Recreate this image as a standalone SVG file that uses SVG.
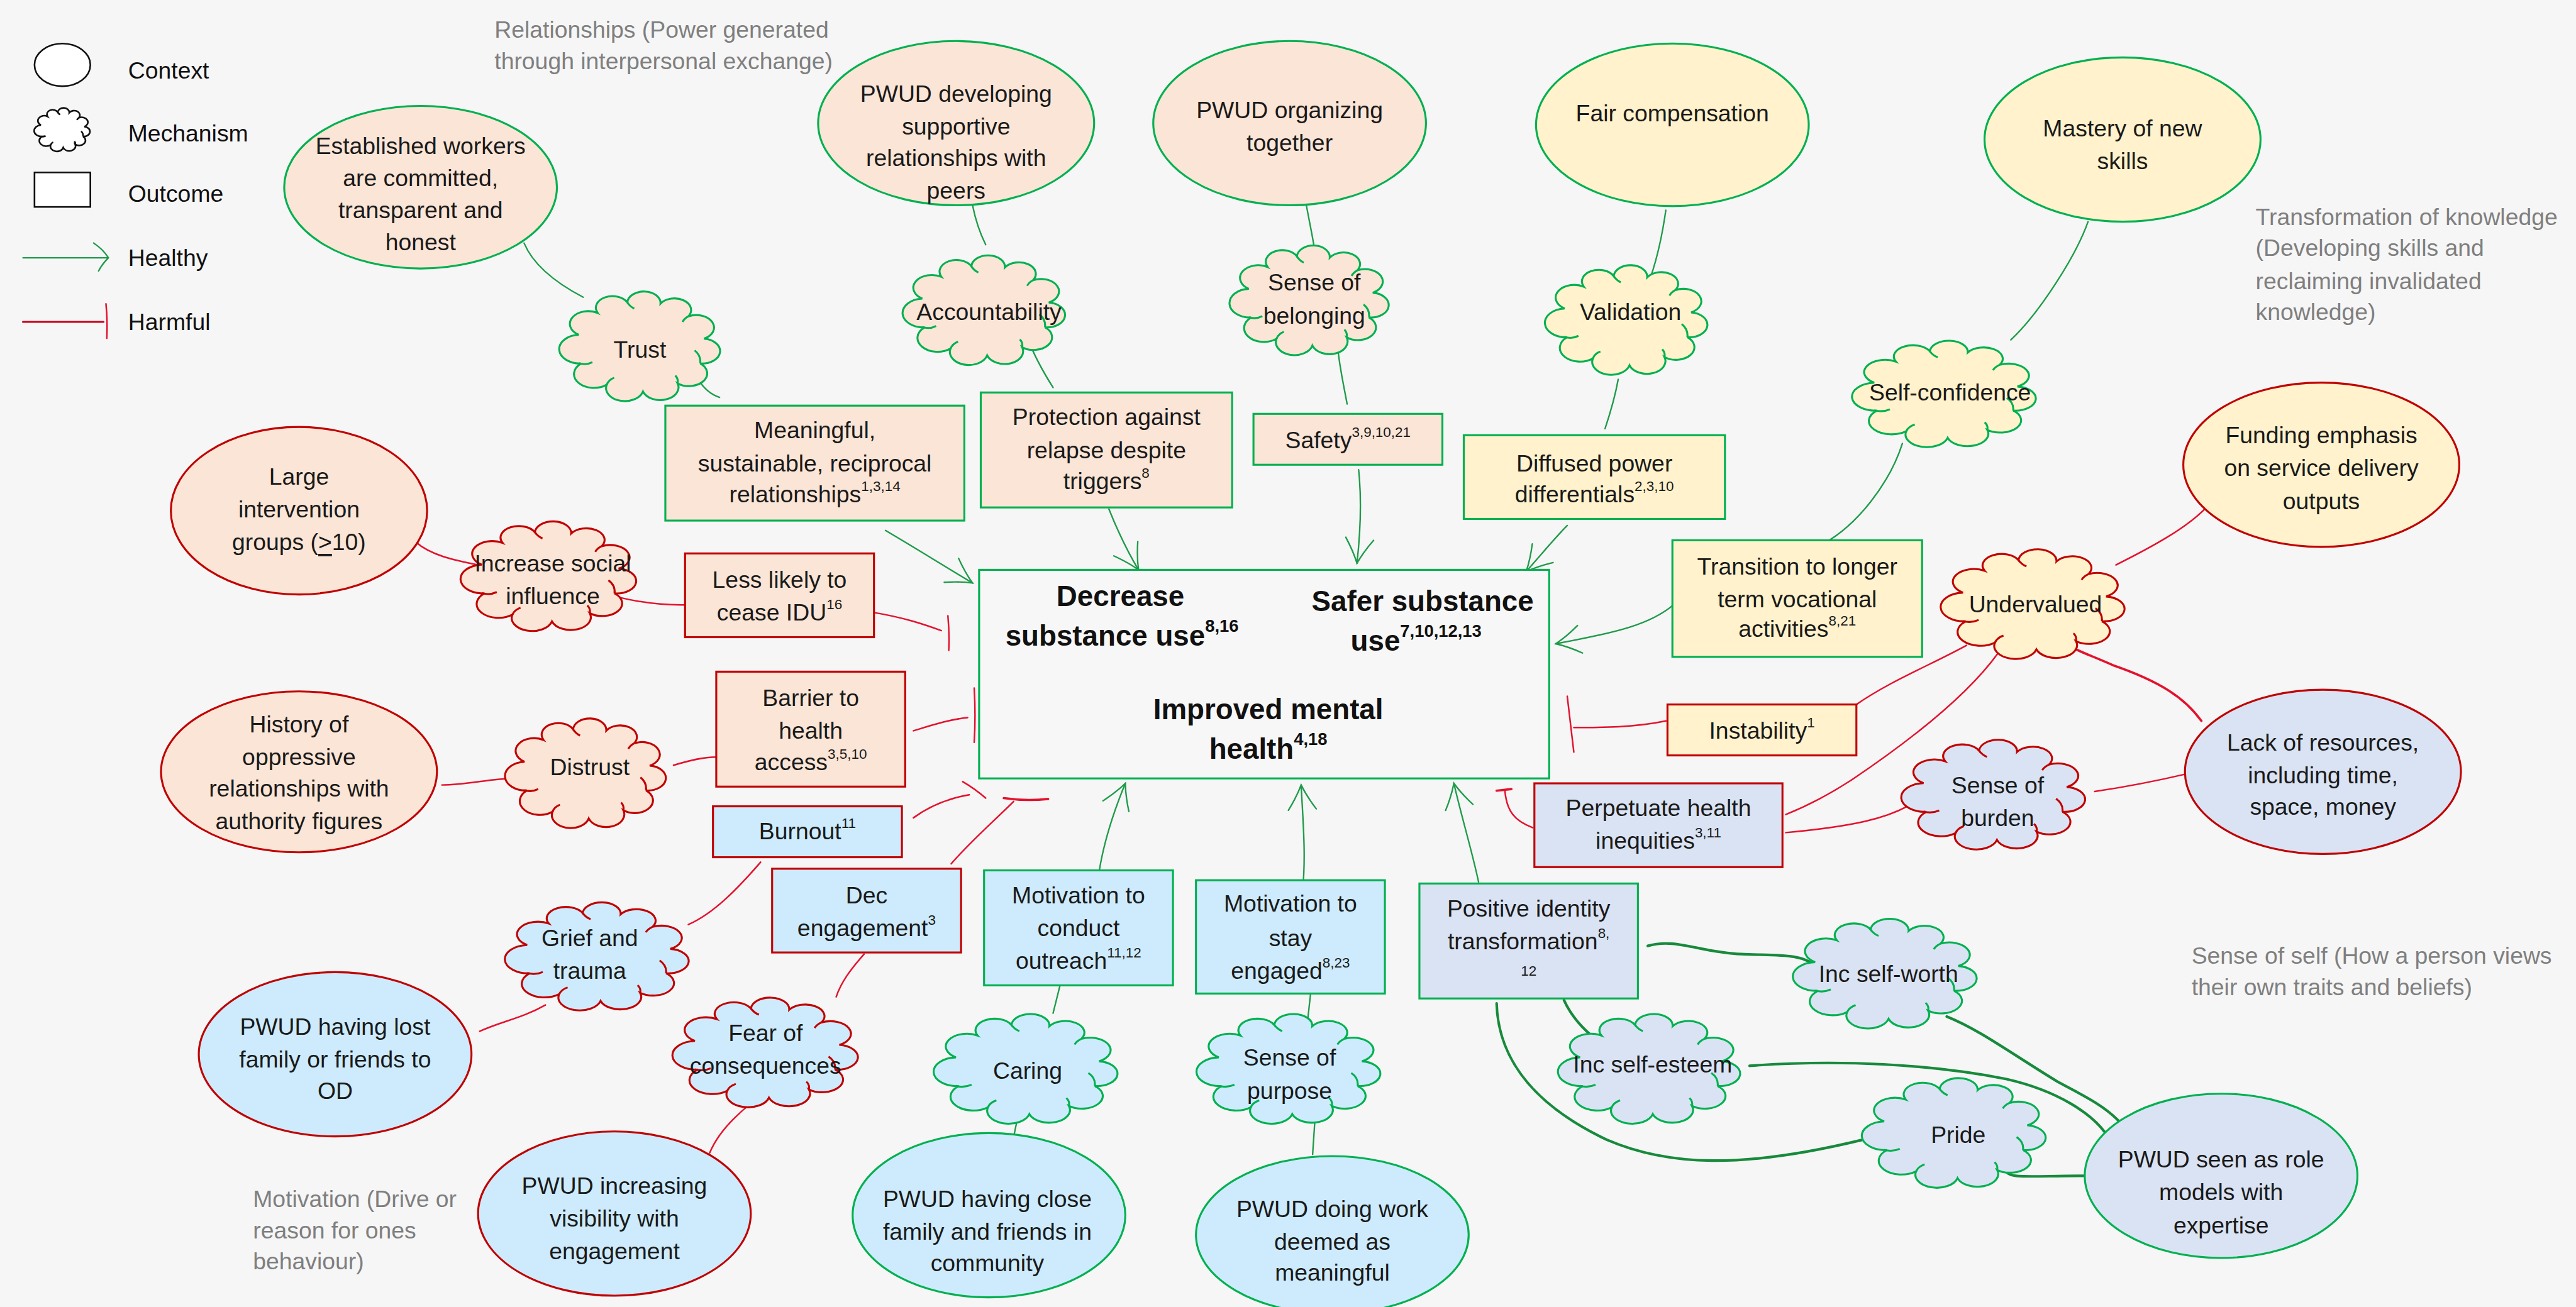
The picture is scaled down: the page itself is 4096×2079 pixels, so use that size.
<svg xmlns="http://www.w3.org/2000/svg" xmlns:xlink="http://www.w3.org/1999/xlink" width="4096" height="2079" viewBox="0 0 4096 2079">
<style>
.t{font-family:"Liberation Sans",Arial,sans-serif;font-size:14.3px;fill:#1a1a1a;text-anchor:middle;dominant-baseline:central}
.lg{font-family:"Liberation Sans",Arial,sans-serif;font-size:14.3px;fill:#111;dominant-baseline:central}
.gl{font-family:"Liberation Sans",Arial,sans-serif;font-size:14.3px;fill:#7f7f7f;dominant-baseline:central}
.b{font-family:"Liberation Sans",Arial,sans-serif;font-size:17.5px;font-weight:bold;fill:#111;text-anchor:middle;dominant-baseline:central}
.sup{font-size:8.6px}
.bsup{font-size:10.5px}
.pe{fill:#fbe5d6}.ye{fill:#fff2cc}.bl{fill:#cdebfc}.la{fill:#dae3f3}.wh{fill:#fff}
.sg{stroke:#00b050}.sr{stroke:#c00000}.sk{stroke:#111}
.n{stroke-width:1.2}
.cl{stroke-width:3.1px}
.cg{fill:none;stroke:#1e9b4a;stroke-width:0.9;stroke-linecap:round}
.cgd{fill:none;stroke:#178a3c;stroke-width:1.6;stroke-linecap:round}
.cr{fill:none;stroke:#e3122e;stroke-width:0.95;stroke-linecap:round}
.crt{fill:none;stroke:#e3122e;stroke-width:1.4;stroke-linecap:round}
</style>
<defs>
<g id="cloud">
<path vector-effect="non-scaling-stroke" d="M-38.5,-10.5 A1,1 0 0 1 -26.7,-30 A1,1 0 0 1 -8.3,-39.5 A1,1 0 0 1 12.3,-38.4 A1,1 0 0 1 29.6,-27 A1,1 0 0 1 39.3,-7 A1,1 0 0 1 37,15.2 A1,1 0 0 1 22.9,33 A1,1 0 0 1 1.4,40.3 A1,1 0 0 1 -21.1,34.2 A1,1 0 0 1 -37,15.2 A1,1 0 0 1 -38.5,-10.5 Z"/>
<path vector-effect="non-scaling-stroke" fill="none" d="M-38.5,15 Q-34,17 -30,14 M37,15.2 Q37.5,8 33.5,3.5 M22.9,33 Q23.5,29 21.5,26 M-21.1,34.2 Q-20,30 -16.5,28 M-8.3,-39.5 Q-6.5,-35.5 -4,-34 M29.6,-27 Q27,-25 26,-22"/>
</g>
<marker id="ah" markerUnits="userSpaceOnUse" viewBox="-20 -12 24 24" markerWidth="24" markerHeight="24" refX="0" refY="0" orient="auto" overflow="visible">
<path d="M-15,-8.5 Q-7,-3 0,0 Q-7,3 -15,8.5" fill="none" stroke="#1e9b4a" stroke-width="0.9" stroke-linecap="round"/>
</marker>
</defs>
<rect x="0" y="0" width="4096" height="2079" fill="#f6f6f6"/>
<g transform="scale(2.6122)">

<g id="legend">
<ellipse cx="38" cy="39.5" rx="17" ry="13" class="wh sk" stroke-width="1"/>
<text class="lg" x="78" y="43">Context</text>
<use href="#cloud" transform="translate(38,79) scale(0.34,0.27)" class="wh sk" stroke-width="2.6"/>
<text class="lg" x="78" y="81">Mechanism</text>
<rect x="21" y="105" width="34" height="21" class="wh sk" stroke-width="1"/>
<text class="lg" x="78" y="118">Outcome</text>
<path d="M14,157 L65,157 M57,148 Q63,152 66,157 Q62,161 60,165" class="cg" stroke="#1e9b4a"/>
<text class="lg" x="78" y="157">Healthy</text>
<path d="M14,196 L63,196" class="cr" stroke="#c8001c" style="stroke:#c8001c;stroke-width:1.2"/>
<path d="M64.5,185 Q65.5,195 65,206" class="cr"/>
<text class="lg" x="78" y="196">Harmful</text>
</g>

<g id="theme-labels">
<text class="gl" x="301" y="18">Relationships (Power generated</text>
<text class="gl" x="301" y="37">through interpersonal exchange)</text>
<text class="gl" x="1373" y="132">Transformation of knowledge</text>
<text class="gl" x="1373" y="151">(Developing skills and</text>
<text class="gl" x="1373" y="171">reclaiming invalidated</text>
<text class="gl" x="1373" y="190">knowledge)</text>
<text class="gl" x="154" y="730">Motivation (Drive or</text>
<text class="gl" x="154" y="749">reason for ones</text>
<text class="gl" x="154" y="768">behaviour)</text>
<text class="gl" x="1334" y="582">Sense of self (How a person views</text>
<text class="gl" x="1334" y="601">their own traits and beliefs)</text>
</g>

<g id="connectors">
<path class="cg" d="M319,148 C324,160 336,171 355,181"/>
<path class="cg" d="M425,231 C428,236 432,240 438,242"/>
<path class="cg" d="M539,323 C556,333 572,343 592,355" marker-end="url(#ah)"/>
<path class="cg" d="M592,125 C594,135 597,143 600,149"/>
<path class="cg" d="M626,207 C630,218 636,228 641,236"/>
<path class="cg" d="M675,310 C681,325 687,337 693,347" marker-end="url(#ah)"/>
<path class="cg" d="M795,124 C797,135 799,144 800,151"/>
<path class="cg" d="M814,209 C815,222 818,235 820,246"/>
<path class="cg" d="M827,286 C829,305 828,325 826,343" marker-end="url(#ah)"/>
<path class="cg" d="M1014,128 C1012,142 1009,156 1005,168"/>
<path class="cg" d="M985,231 C983,242 980,252 977,261"/>
<path class="cg" d="M954,320 C946,328 938,338 929,348" marker-end="url(#ah)"/>
<path class="cg" d="M1271,135 C1264,155 1242,190 1224,207"/>
<path class="cg" d="M1158,270 C1150,295 1130,320 1110,331"/>
<path class="cg" d="M1019,368 C1005,380 985,385 947,392" marker-end="url(#ah)"/>
<path class="cg" d="M669,531 C672,512 678,494 685,477" marker-end="url(#ah)"/>
<path class="cg" d="M641,617 L646,597"/>
<path class="cg" d="M616,697 L620,678"/>
<path class="cg" d="M793,541 C795,520 793,498 792,478" marker-end="url(#ah)"/>
<path class="cg" d="M796,621 L798,603"/>
<path class="cg" d="M799,703 L801,673"/>
<path class="cg" d="M900,537 C896,518 889,495 885,477" marker-end="url(#ah)"/>
<path class="cgd" d="M1003,576 C1020,571 1035,580 1060,581 C1080,582 1097,580 1106,589"/>
<path class="cgd" d="M952,609 C957,620 965,628 973,634"/>
<path class="cgd" d="M911,611 C912,648 938,675 978,694 C1015,710 1060,712 1134,694"/>
<path class="cgd" d="M1065,649 C1120,645 1175,648 1221,657 C1252,664 1274,678 1283,692"/>
<path class="cgd" d="M1185,619 C1205,627 1225,642 1253,659 C1270,668 1282,674 1291,684"/>
<path class="cgd" d="M1221,713 C1223,718 1235,716 1271,716"/>
<path class="cr" d="M253,330 C262,338 276,341 291,344"/>
<path class="cr" d="M378,364 C395,368 410,369 425,368"/>
<path class="cr" d="M532,373 C550,376 562,380 573,384"/>
<path class="cr" d="M577,375 Q578,386 577.5,396"/>
<path class="cr" d="M269,478 C285,478 298,474 313,474"/>
<path class="cr" d="M410,466 C420,463 428,461 436,461"/>
<path class="cr" d="M556,445 C566,442 578,438 589,437"/>
<path class="cr" d="M593,419 Q594,436 593,452"/>
<path class="cr" d="M556,498 C567,490 578,486 590,484"/>
<path class="cr" d="M586,476 Q593,480 600,486"/>
<path class="cr" d="M579,526 C590,513 605,500 617,488"/>
<path class="crt" d="M611,486 Q625,488 638,486.5"/>
<path class="cr" d="M419,563 C435,556 450,540 463,525"/>
<path class="cr" d="M292,628 C305,622 318,620 332,612"/>
<path class="cr" d="M509,607 C512,598 518,590 526,581"/>
<path class="cr" d="M432,702 C437,690 447,680 457,672"/>
<path class="cr" d="M1014,439 C995,443 975,443 958,443"/>
<path class="cr" d="M954,424 Q956,441 958,458"/>
<path class="cr" d="M933,504 C922,500 917,494 916,481"/>
<path class="crt" d="M911,481.5 L920,480.5"/>
<path class="cr" d="M1197,393 C1175,405 1150,415 1130,429"/>
<path class="cr" d="M1216,398 C1200,420 1170,446 1127,475 C1110,486 1097,492 1087,496"/>
<path class="cr" d="M1342,310 C1330,322 1310,333 1288,344"/>
<path class="crt" d="M1340,439 C1330,425 1315,415 1286,405 C1275,400 1266,397 1261,394"/>
<path class="cr" d="M1332,471 C1315,475 1295,479 1275,482"/>
<path class="cr" d="M1161,491 C1148,498 1130,503 1087,507"/>
</g>

<g id="n-central">
<rect x="596" y="347" width="347" height="127" fill="#f7f7f7" class="sg n"/>
<text class="b"><tspan x="682" y="363">Decrease</tspan><tspan x="683" y="387">substance use<tspan class="bsup" dy="-6">8,16</tspan></tspan></text>
<text class="b"><tspan x="866" y="366">Safer substance</tspan><tspan x="862" y="390">use<tspan class="bsup" dy="-6">7,10,12,13</tspan></tspan></text>
<text class="b"><tspan x="772" y="432">Improved mental</tspan><tspan x="772" y="456">health<tspan class="bsup" dy="-6">4,18</tspan></tspan></text>
</g>

<g id="n-established">
<ellipse cx="256" cy="114" rx="83" ry="49.5" class="pe sg n"/>
<text class="t"><tspan x="256" y="89">Established workers</tspan><tspan x="256" y="108.5">are committed,</tspan><tspan x="256" y="128">transparent and</tspan><tspan x="256" y="147.5">honest</tspan></text>
</g>
<g id="n-trust">
<use href="#cloud" transform="translate(390,211) scale(0.98,0.68)" class="pe sg cl"/>
<text class="t" x="389.5" y="213">Trust</text>
</g>
<g id="n-meaningful">
<rect x="405" y="247" width="182" height="70" class="pe sg n"/>
<text class="t"><tspan x="496" y="262">Meaningful,</tspan><tspan x="496" y="282">sustainable, reciprocal</tspan><tspan x="496" y="301">relationships<tspan class="sup" dy="-5">1,3,14</tspan></tspan></text>
</g>
<g id="n-pwud-developing">
<ellipse cx="582" cy="75" rx="84" ry="50" class="pe sg n"/>
<text class="t"><tspan x="582" y="57">PWUD developing</tspan><tspan x="582" y="77">supportive</tspan><tspan x="582" y="96">relationships with</tspan><tspan x="582" y="116">peers</tspan></text>
</g>
<g id="n-accountability">
<use href="#cloud" transform="translate(599.5,189) scale(0.99,0.68)" class="pe sg cl"/>
<text class="t" x="602" y="190">Accountability</text>
</g>
<g id="n-protection">
<rect x="597" y="239" width="153" height="70" class="pe sg n"/>
<text class="t"><tspan x="673.5" y="254">Protection against</tspan><tspan x="673.5" y="274">relapse despite</tspan><tspan x="673.5" y="293">triggers<tspan class="sup" dy="-5">8</tspan></tspan></text>
</g>
<g id="n-organizing">
<ellipse cx="785" cy="75" rx="83" ry="50" class="pe sg n"/>
<text class="t"><tspan x="785" y="67">PWUD organizing</tspan><tspan x="785" y="87">together</tspan></text>
</g>
<g id="n-belonging">
<use href="#cloud" transform="translate(797.5,183) scale(0.97,0.68)" class="pe sg cl"/>
<text class="t"><tspan x="800" y="172">Sense of</tspan><tspan x="800" y="192">belonging</tspan></text>
</g>
<g id="n-safety">
<rect x="763" y="252" width="115" height="31" class="pe sg n"/>
<text class="t" x="820.5" y="268">Safety<tspan class="sup" dy="-5">3,9,10,21</tspan></text>
</g>
<g id="n-fair">
<ellipse cx="1018" cy="76" rx="83" ry="49.5" class="ye sg n"/>
<text class="t" x="1018" y="69">Fair compensation</text>
</g>
<g id="n-validation">
<use href="#cloud" transform="translate(990.5,195) scale(0.99,0.68)" class="ye sg cl"/>
<text class="t" x="992.5" y="190">Validation</text>
</g>
<g id="n-diffused">
<rect x="891" y="265" width="159" height="51" class="ye sg n"/>
<text class="t"><tspan x="970.5" y="282">Diffused power</tspan><tspan x="970.5" y="301">differentials<tspan class="sup" dy="-5">2,3,10</tspan></tspan></text>
</g>
<g id="n-mastery">
<ellipse cx="1292" cy="85" rx="84" ry="50" class="ye sg n"/>
<text class="t"><tspan x="1292" y="78">Mastery of new</tspan><tspan x="1292" y="98">skills</tspan></text>
</g>
<g id="n-selfconfidence">
<use href="#cloud" transform="translate(1184,240) scale(1.12,0.66)" class="ye sg cl"/>
<text class="t" x="1187" y="239">Self-confidence</text>
</g>
<g id="n-transition">
<rect x="1018" y="329" width="152" height="71" class="ye sg n"/>
<text class="t"><tspan x="1094" y="345">Transition to longer</tspan><tspan x="1094" y="365">term vocational</tspan><tspan x="1094" y="383">activities<tspan class="sup" dy="-5">8,21</tspan></tspan></text>
</g>
<g id="n-funding">
<ellipse cx="1413" cy="283" rx="84" ry="50" class="ye sr n"/>
<text class="t"><tspan x="1413" y="265">Funding emphasis</tspan><tspan x="1413" y="285">on service delivery</tspan><tspan x="1413" y="305">outputs</tspan></text>
</g>
<g id="n-undervalued">
<use href="#cloud" transform="translate(1238,368) scale(1.12,0.68)" class="ye sr cl"/>
<text class="t" x="1239" y="368">Undervalued</text>
</g>
<g id="n-instability">
<rect x="1015" y="429" width="115" height="31" class="ye sr n"/>
<text class="t" x="1072.5" y="445">Instability<tspan class="sup" dy="-5">1</tspan></text>
</g>
<g id="n-lack">
<ellipse cx="1414" cy="470" rx="84" ry="50" class="la sr n"/>
<text class="t"><tspan x="1414" y="452">Lack of resources,</tspan><tspan x="1414" y="472">including time,</tspan><tspan x="1414" y="491">space, money</tspan></text>
</g>
<g id="n-burden">
<use href="#cloud" transform="translate(1214,484) scale(1.12,0.68)" class="la sr cl"/>
<text class="t"><tspan x="1216" y="478">Sense of</tspan><tspan x="1216" y="498">burden</tspan></text>
</g>
<g id="n-perpetuate">
<rect x="934" y="477" width="151" height="51" class="la sr n"/>
<text class="t"><tspan x="1009.5" y="492">Perpetuate health</tspan><tspan x="1009.5" y="512">inequities<tspan class="sup" dy="-5">3,11</tspan></tspan></text>
</g>
<g id="n-large">
<ellipse cx="182" cy="311" rx="78" ry="51" class="pe sr n"/>
<text class="t"><tspan x="182" y="290">Large</tspan><tspan x="182" y="310">intervention</tspan><tspan x="182" y="330">groups (<tspan text-decoration="underline">&gt;</tspan>10)</tspan></text>
</g>
<g id="n-increase">
<use href="#cloud" transform="translate(334.5,351) scale(1.07,0.68)" class="pe sr cl"/>
<text class="t"><tspan x="336.5" y="343">Increase social</tspan><tspan x="336.5" y="363">influence</tspan></text>
</g>
<g id="n-lesslikely">
<rect x="417" y="337" width="115" height="51" class="pe sr n"/>
<text class="t"><tspan x="474.5" y="353">Less likely to</tspan><tspan x="474.5" y="373">cease IDU<tspan class="sup" dy="-5">16</tspan></tspan></text>
</g>
<g id="n-history">
<ellipse cx="182" cy="470" rx="84" ry="49" class="pe sr n"/>
<text class="t"><tspan x="182" y="441">History of</tspan><tspan x="182" y="461">oppressive</tspan><tspan x="182" y="480">relationships with</tspan><tspan x="182" y="500">authority figures</tspan></text>
</g>
<g id="n-distrust">
<use href="#cloud" transform="translate(357,471) scale(0.98,0.68)" class="pe sr cl"/>
<text class="t" x="359" y="467">Distrust</text>
</g>
<g id="n-barrier">
<rect x="436" y="409" width="115" height="70" class="pe sr n"/>
<text class="t"><tspan x="493.5" y="425">Barrier to</tspan><tspan x="493.5" y="445">health</tspan><tspan x="493.5" y="464">access<tspan class="sup" dy="-5">3,5,10</tspan></tspan></text>
</g>
<g id="n-burnout">
<rect x="434" y="491" width="115" height="31" class="bl sr n"/>
<text class="t" x="491.5" y="506">Burnout<tspan class="sup" dy="-5">11</tspan></text>
</g>
<g id="n-dec">
<rect x="470" y="529" width="115" height="51" class="bl sr n"/>
<text class="t"><tspan x="527.5" y="545">Dec</tspan><tspan x="527.5" y="565">engagement<tspan class="sup" dy="-5">3</tspan></tspan></text>
</g>
<g id="n-grief">
<use href="#cloud" transform="translate(364,582.5) scale(1.12,0.67)" class="bl sr cl"/>
<text class="t"><tspan x="359" y="571">Grief and</tspan><tspan x="359" y="591">trauma</tspan></text>
</g>
<g id="n-lost">
<ellipse cx="204" cy="642" rx="83" ry="50" class="bl sr n"/>
<text class="t"><tspan x="204" y="625">PWUD having lost</tspan><tspan x="204" y="645">family or friends to</tspan><tspan x="204" y="664">OD</tspan></text>
</g>
<g id="n-fear">
<use href="#cloud" transform="translate(466.5,641) scale(1.13,0.68)" class="bl sr cl"/>
<text class="t"><tspan x="466" y="629">Fear of</tspan><tspan x="466" y="649">consequences</tspan></text>
</g>
<g id="n-visibility">
<ellipse cx="374" cy="739" rx="83" ry="50" class="bl sr n"/>
<text class="t"><tspan x="374" y="722">PWUD increasing</tspan><tspan x="374" y="742">visibility with</tspan><tspan x="374" y="762">engagement</tspan></text>
</g>
<g id="n-outreach">
<rect x="599" y="530" width="115" height="70" class="bl sg n"/>
<text class="t"><tspan x="656.5" y="545">Motivation to</tspan><tspan x="656.5" y="565">conduct</tspan><tspan x="656.5" y="585">outreach<tspan class="sup" dy="-5">11,12</tspan></tspan></text>
</g>
<g id="n-caring">
<use href="#cloud" transform="translate(625,651) scale(1.12,0.68)" class="bl sg cl"/>
<text class="t" x="625.5" y="652">Caring</text>
</g>
<g id="n-close">
<ellipse cx="602" cy="740" rx="83" ry="50" class="bl sg n"/>
<text class="t"><tspan x="601" y="730">PWUD having close</tspan><tspan x="601" y="750">family and friends in</tspan><tspan x="601" y="769">community</tspan></text>
</g>
<g id="n-stay">
<rect x="728" y="536" width="115" height="69" class="bl sg n"/>
<text class="t"><tspan x="785.5" y="550">Motivation to</tspan><tspan x="785.5" y="571">stay</tspan><tspan x="785.5" y="591">engaged<tspan class="sup" dy="-5">8,23</tspan></tspan></text>
</g>
<g id="n-purpose">
<use href="#cloud" transform="translate(785,651) scale(1.12,0.68)" class="bl sg cl"/>
<text class="t"><tspan x="785" y="644">Sense of</tspan><tspan x="785" y="664">purpose</tspan></text>
</g>
<g id="n-doingwork">
<ellipse cx="811" cy="752" rx="83" ry="48" class="bl sg n"/>
<text class="t"><tspan x="811" y="736">PWUD doing work</tspan><tspan x="811" y="756">deemed as</tspan><tspan x="811" y="775">meaningful</tspan></text>
</g>
<g id="n-positive">
<rect x="864" y="538" width="133" height="70" class="la sg n"/>
<text class="t"><tspan x="930.5" y="553">Positive identity</tspan><tspan x="930.5" y="573">transformation<tspan class="sup" dy="-5">8,</tspan></tspan><tspan x="930.5" y="591" class="sup">12</tspan></text>
</g>
<g id="n-selfesteem">
<use href="#cloud" transform="translate(1004.5,651) scale(1.11,0.68)" class="la sg cl"/>
<text class="t" x="1006" y="648">Inc self-esteem</text>
</g>
<g id="n-selfworth">
<use href="#cloud" transform="translate(1148,593) scale(1.12,0.68)" class="la sg cl"/>
<text class="t" x="1149.5" y="593">Inc self-worth</text>
</g>
<g id="n-pride">
<use href="#cloud" transform="translate(1190,690) scale(1.12,0.68)" class="la sg cl"/>
<text class="t" x="1192" y="691">Pride</text>
</g>
<g id="n-rolemodels">
<ellipse cx="1352" cy="716" rx="83" ry="50" class="la sg n"/>
<text class="t"><tspan x="1352" y="706">PWUD seen as role</tspan><tspan x="1352" y="726">models with</tspan><tspan x="1352" y="746">expertise</tspan></text>
</g>

</g>
</svg>
